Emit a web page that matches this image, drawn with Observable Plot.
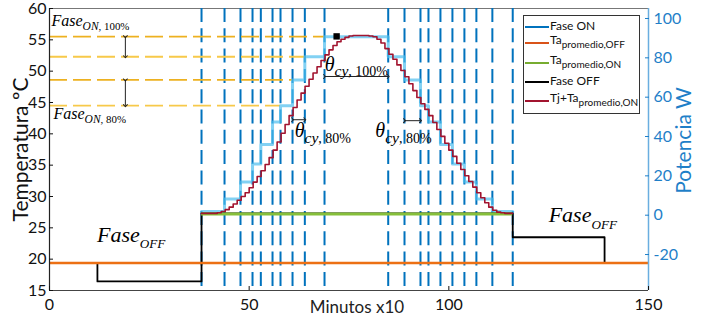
<!DOCTYPE html>
<html>
<head>
<meta charset="utf-8">
<script src="https://cdn.jsdelivr.net/npm/d3@7"></script>
<script src="https://cdn.jsdelivr.net/npm/@observablehq/plot@0.6"></script>
<style>
  body { margin: 0; background: #fff; }
  #wrap { position: relative; width: 724px; height: 323px; font-family: Lato, "Open Sans", sans-serif; }
  #legend { position: absolute; left: 523px; top: 15px; width: 115px; height: 97px; border: 1px solid #333; background: #fff; }
  .lrow { position: absolute; left: 0; height: 14px; width: 115px; }
  .lline { position: absolute; left: 1px; top: 6px; width: 24px; height: 2px; }
  .ltext { position: absolute; left: 26px; top: -1px; font-size: 12px; line-height: 14px; color: #111; white-space: nowrap; }
  .ltext sub { font-size: 10px; vertical-align: -4px; line-height: 10px; }
</style>
</head>
<body>
<div id="wrap"><div id="chart"></div><div id="legend"></div></div>
<script>
// ---------- data ----------
const minuteTicks = [0, 50, 100, 150];
const tempTicks = [15, 20, 25, 30, 35, 40, 45, 50, 55, 60];
const powerTicks = [-20, 0, 20, 40, 60, 80, 100];

// switching instants of "Fase ON" (minutes x10)
const onSwitchTimes = [38.07, 43.83, 47.83, 50.84, 52.92, 55.85, 57.85, 60.86, 63.94, 68.87,
                       84.82, 88.9, 92.9, 94.9, 97.9, 100.9, 103.9, 106.9, 110.9, 116.0];
// temperature level held between consecutive switching instants
const onStepTemps = [27.6, 29.6, 32.3, 35.2, 38.3, 41.9, 44.5, 48.6, 52.3, 55.5,
                     52.3, 48.6, 44.5, 41.9, 38.3, 35.2, 32.3, 29.6, 27.6];

// Tj + Ta_promedio,ON
const tjMinutes = [38, 39, 40, 41, 42, 43, 44, 45, 46, 47, 48, 49, 50, 51, 52, 53, 54, 55, 56, 57,
                   58, 59, 60, 61, 62, 63, 64, 65, 66, 67, 68, 69, 70, 71, 72, 73, 74, 75, 76, 77,
                   78, 79, 80, 81, 82, 83, 84, 85, 86, 87, 88, 89, 90, 91, 92, 93, 94, 95, 96, 97,
                   98, 99, 100, 101, 102, 103, 104, 105, 106, 107, 108, 109, 110, 111, 112, 113, 114, 115, 116];
const tjTemps = [27.3, 27.3, 27.3, 27.3, 27.4, 27.6, 27.9, 28.3, 28.8, 29.4, 30.0, 30.6, 31.4, 32.3, 33.2, 34.1, 35.1, 36.2, 37.4, 38.7,
                 40.1, 41.5, 42.9, 44.2, 45.4, 46.5, 47.6, 48.7, 49.7, 50.7, 51.7, 52.6, 53.4, 54.1, 54.7, 55.1, 55.4, 55.6, 55.7, 55.7,
                 55.7, 55.7, 55.6, 55.5, 55.1, 54.5, 53.6, 52.7, 51.9, 51.0, 50.1, 49.1, 48.0, 46.9, 45.8, 44.8, 43.9, 42.9, 41.8, 40.7,
                 39.6, 38.5, 37.4, 36.4, 35.3, 34.3, 33.3, 32.4, 31.5, 30.6, 29.8, 29.0, 28.3, 27.8, 27.5, 27.4, 27.3, 27.3, 27.3];

// Fase OFF
const offMinutes = [12, 12, 38.07, 38.07, 116, 116, 139, 139];
const offTemps = [19.4, 16.45, 16.45, 27.3, 27.3, 23.5, 23.5, 19.4];

// average ambient temperatures
const taOffTemp = 19.4, taOffSpan = [0, 150];
const taOnTemp = 27.2, taOnSpan = [38.07, 116];

// set-point levels (yellow dashed) and the instant where each is reached
const setpointTemps = [55.5, 52.3, 48.6, 44.5];
const setpointEnds = [68.87, 63.94, 60.86, 57.85];

const peakMinute = 71.9, peakTemp = 55.55;

const legendLabels = ["Fase ON", "Ta", "Ta", "Fase OFF", "Tj+Ta"];
const legendSubs = ["", "promedio,OFF", "promedio,ON", "", "promedio,ON"];

// ---------- helpers ----------
const w2t = w => 20.74 + (w + 20) / 3.186;   // power (W) -> temperature axis position
const powerTickPos = powerTicks.map(w2t);
const powerLabel = new Map(powerTickPos.map((t, i) => [t, String(powerTicks[i])]));

const onSteps = onSwitchTimes.map((t, i) => ({x: t, y: onStepTemps[Math.min(i, onStepTemps.length - 1)]}));
const tj = tjMinutes.map((m, i) => ({x: m, y: tjTemps[i]}));
const off = offMinutes.map((m, i) => ({x: m, y: offTemps[i]}));
const setpoints = setpointTemps.map((t, i) => ({y: t, x2: setpointEnds[i], c: i % 2 === 0 ? "#EDB120" : "#F7C94A"}));

const arrows = [
  {x1: 19, y1: setpointTemps[0], x2: 19, y2: setpointTemps[1]},
  {x1: 19, y1: setpointTemps[2], x2: 19, y2: setpointTemps[3]},
  {x1: onSwitchTimes[9], y1: 49.15, x2: onSwitchTimes[10], y2: 49.15},
  {x1: onSwitchTimes[7], y1: 42.25, x2: onSwitchTimes[8], y2: 42.25},
  {x1: onSwitchTimes[11], y1: 42.1, x2: onSwitchTimes[12], y2: 42.1}
];

const annots = [
  {main: "Fase", s1: "ON", s2: ", 100%", x: 0.5, y: 58.1, size: 16, r1: 0.72, r2: 0.68},
  {main: "Fase", s1: "ON", s2: ", 80%", x: 1.0, y: 43.2, size: 16, r1: 0.72, r2: 0.68},
  {main: "θ", s1: "cy", s2: ", 100%", x: 68.9, y: 51.1, size: 20, r1: 0.78, r2: 0.7},
  {main: "θ", s1: "cy", s2: ", 80%", x: 61.4, y: 40.5, size: 20, r1: 0.78, r2: 0.7},
  {main: "θ", s1: "cy", s2: ", 80%", x: 81.6, y: 40.5, size: 20, r1: 0.78, r2: 0.7},
  {main: "Fase", s1: "OFF", s2: "", x: 11.9, y: 23.9, size: 22, r1: 0.6, r2: 0.6},
  {main: "Fase", s1: "OFF", s2: "", x: 125.0, y: 27.0, size: 22, r1: 0.6, r2: 0.6}
];

const BLUE = "#0072BD";
const AXBLUE = "#1F7FC8";

const svg = Plot.plot({
  width: 724, height: 323,
  marginLeft: 49, marginRight: 76, marginTop: 8, marginBottom: 33,
  x: {domain: [0, 150]},
  y: {domain: [15, 60]},
  style: {fontFamily: "Lato, 'Open Sans', sans-serif", fontSize: "15px", color: "#111", background: "#fff", overflow: "visible"},
  marks: [
    Plot.ruleY([60], {stroke: "#777", strokeWidth: 1.2}),
    Plot.ruleX(onSwitchTimes, {stroke: BLUE, strokeWidth: 2, strokeDasharray: "14,6.3"}),
    Plot.ruleY(setpoints, {y: "y", x1: 0, x2: "x2", stroke: "c", strokeWidth: 1.8, strokeDasharray: "18,6"}),
    Plot.line(onSteps, {x: "x", y: "y", curve: "step-after", stroke: "#4DBEEE", strokeOpacity: 0.7, strokeWidth: 3}),
    Plot.line(off, {x: "x", y: "y", stroke: "#000", strokeWidth: 1.8}),
    Plot.ruleY([taOffTemp], {x1: taOffSpan[0], x2: taOffSpan[1], stroke: "#EC7014", strokeWidth: 2.5}),
    Plot.ruleY([taOnTemp], {x1: taOnSpan[0], x2: taOnSpan[1], stroke: "#86BF3A", strokeWidth: 3}),
    Plot.line(tj, {x: "x", y: "y", curve: "step-after", stroke: "#A2142F", strokeWidth: 1.6}),
    Plot.dot([{x: peakMinute, y: peakTemp}], {x: "x", y: "y", symbol: "square", r: 3.6, fill: "#000"}),
    Plot.link(arrows, {x1: "x1", y1: "y1", x2: "x2", y2: "y2", stroke: "#222", strokeWidth: 1, markerStart: "arrow", markerEnd: "arrow"}),
    Plot.text(annots, {x: "x", y: "y", text: "main", fontSize: d => d.size, textAnchor: "start",
      fontFamily: "'Liberation Serif', 'DejaVu Serif', serif", fontStyle: "italic", fill: "#000", ariaDescription: "annot"}),
    Plot.ruleX([0], {stroke: "#222", strokeWidth: 1.2}),
    Plot.ruleX([150], {stroke: "#6AAEE0", strokeWidth: 1.5}),
    Plot.ruleY([15], {stroke: "#444", strokeWidth: 1.2}),
    Plot.axisX(minuteTicks, {tickSize: -4, tickPadding: 12, label: null, fontSize: 16, tickFormat: d => String(d)}),
    Plot.axisY(tempTicks, {anchor: "left", tickSize: -4, tickPadding: 7, label: null, fontSize: 16, tickFormat: d => String(d)}),
    Plot.axisY(powerTickPos, {anchor: "right", tickSize: -4, tickPadding: 9, label: null, fontSize: 16, color: AXBLUE, tickFormat: d => powerLabel.get(d)}),
    Plot.text(["Temperatura ºC"], {text: d => d, frameAnchor: "left", textAnchor: "middle", rotate: -90, dx: -28, fontSize: 21, fill: "#111"}),
    Plot.text(["Potencia W"], {text: d => d, frameAnchor: "right", textAnchor: "middle", rotate: -90, dx: 36, dy: -9, fontSize: 21, fill: AXBLUE}),
    Plot.text(["Minutos x10"], {text: d => d, frameAnchor: "bottom", dx: 8, dy: 22, fontSize: 17, fill: "#222"})
  ]
});

// rich-text subscripts for the annotations
const NS = "http://www.w3.org/2000/svg";
let annotTexts = svg.querySelectorAll('g[aria-description="annot"] text');
annotTexts.forEach((t, i) => {
  const a = annots[i];
  if (!a) return;
  while (t.firstChild) t.removeChild(t.firstChild);
  const m = document.createElementNS(NS, "tspan");
  m.textContent = a.main;
  t.appendChild(m);
  const s1 = document.createElementNS(NS, "tspan");
  s1.setAttribute("font-size", (a.size * a.r1).toFixed(1));
  s1.setAttribute("dy", (a.size * 0.28).toFixed(1));
  s1.textContent = a.s1;
  t.appendChild(s1);
  if (a.s2) {
    const s2 = document.createElementNS(NS, "tspan");
    s2.setAttribute("font-size", (a.size * a.r2).toFixed(1));
    s2.setAttribute("font-style", "normal");
    s2.textContent = a.s2;
    t.appendChild(s2);
  }
});

document.getElementById("chart").appendChild(svg);

// legend
const legendColors = [BLUE, "#D95319", "#77AC30", "#000000", "#A2142F"];
const rowCenters = [11, 27, 47, 66, 85];
const legend = document.getElementById("legend");
legendLabels.forEach((lab, i) => {
  const row = document.createElement("div");
  row.className = "lrow";
  row.style.top = (rowCenters[i] - 7) + "px";
  const line = document.createElement("div");
  line.className = "lline";
  line.style.background = legendColors[i];
  const txt = document.createElement("div");
  txt.className = "ltext";
  txt.style.top = legendSubs[i] ? "-3px" : "-1px";
  txt.innerHTML = lab + (legendSubs[i] ? "<sub>" + legendSubs[i] + "</sub>" : "");
  row.appendChild(line);
  row.appendChild(txt);
  legend.appendChild(row);
});
</script>
</body>
</html>
